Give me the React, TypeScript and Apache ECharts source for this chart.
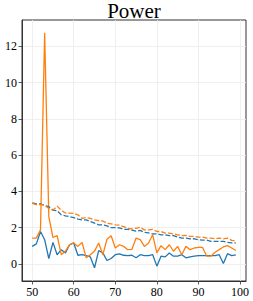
import React, { useEffect, useRef } from "react";
import * as echarts from "echarts";

const xs: number[] = Array.from({ length: 50 }, (_, i) => 50 + i);

const blueSolid: number[] = [
  0.96, 1.1, 1.78, 1.33, 0.29, 1.18, 0.5, 0.78, 0.6, 1.05,
  1.15, 0.47, 0.5, 0.45, 0.38, -0.22, 0.73, 0.6, 0.18, 0.29,
  0.5, 0.55, 0.47, 0.45, 0.47, 0.33, 0.5, 0.45, 0.45, 0.5,
  -0.13, 0.42, 0.38, 0.6, 0.42, 0.42, 0.5, 0.33, 0.38, 0.42,
  0.45, 0.45, 0.45, 0.45, 0.45, 0.5, 0.02, 0.56, 0.45, 0.49,
];

const orangeSolid: number[] = [
  1.42, 1.42, 1.87, 12.75, 2.6, 1.45, 1.55, 0.5, 0.7, 1.05,
  1.15, 0.96, 1.18, 0.33, 0.5, 0.7, 1.15, 0.5, 1.36, 1.55,
  0.87, 1.05, 0.96, 0.78, 0.8, 1.42, 1.33, 0.96, 1.15, 1.6,
  0.6, 1.0, 0.78, 1.05, 0.69, 0.96, 0.5, 0.96, 0.78, 0.87,
  0.9, 0.9, 0.42, 0.42, 0.64, 0.78, 0.93, 1.0, 0.87, 0.73,
];

const blueDashed: number[] = [
  3.36, 3.3, 3.3, 3.22, 3.15, 2.96, 2.93, 2.7, 2.64, 2.6,
  2.55, 2.47, 2.42, 2.42, 2.33, 2.24, 2.15, 2.15, 2.09, 2.0,
  2.0, 1.98, 1.9, 1.9, 1.86, 1.8, 1.84, 1.73, 1.7, 1.65,
  1.65, 1.6, 1.6, 1.55, 1.55, 1.47, 1.42, 1.42, 1.38, 1.38,
  1.33, 1.3, 1.3, 1.24, 1.24, 1.24, 1.24, 1.18, 1.15, 1.15,
];

const orangeDashed: number[] = [
  3.33, 3.27, 3.27, 3.24, 3.05, 2.96, 3.18, 2.96, 2.8, 2.8,
  2.78, 2.7, 2.5, 2.55, 2.5, 2.42, 2.38, 2.36, 2.24, 2.2,
  2.15, 2.13, 2.05, 1.96, 1.92, 1.96, 2.02, 1.87, 1.87, 1.9,
  1.78, 1.78, 1.69, 1.69, 1.65, 1.6, 1.55, 1.56, 1.51, 1.51,
  1.47, 1.47, 1.42, 1.42, 1.38, 1.42, 1.38, 1.42, 1.29, 1.27,
];

const xTicks: number[] = [50, 60, 70, 80, 90, 100];
const yTicks: number[] = [0, 2, 4, 6, 8, 10, 12];

const BLUE = "#1f77b4";
const ORANGE = "#ff7f0e";
const FONT = "Liberation Serif";

export default function App() {
  const ref = useRef<HTMLDivElement>(null);
  useEffect(() => {
    document.body.style.margin = "0";
    if (!ref.current) return;
    const chart = echarts.init(ref.current, undefined, { renderer: "svg" });
    const pair = (arr: number[]) => xs.map((x, i) => [x, arr[i]]);
    const axisCommon = {
      axisLine: { show: true, onZero: false, lineStyle: { color: "#333", width: 1 } },
      splitLine: { show: true, lineStyle: { color: "#ebebeb", width: 0.8 } },
      axisLabel: { show: false },
    };
    const tick = (vals: number[]) => ({
      show: true,
      inside: false,
      length: 3.5,
      customValues: vals,
      lineStyle: { color: "#333", width: 0.8 },
    });
    const line = (data: number[], color: string, dashed: boolean, z: number) => ({
      type: "line",
      data: pair(data),
      showSymbol: false,
      symbol: "none",
      z,
      lineStyle: { color, width: 1.3, type: dashed ? [5, 2] : "solid" },
    });
    const xMin = 47.55;
    const yMin = -0.95;
    chart.setOption({
      animation: false,
      textStyle: { fontFamily: FONT },
      title: {
        text: "Power",
        left: 134,
        top: 0,
        padding: 0,
        textAlign: "center",
        textStyle: { fontFamily: FONT, fontSize: 21, fontWeight: "normal", color: "#000" },
      },
      grid: {
        left: 22,
        right: 7,
        top: 20,
        bottom: 20,
        show: true,
        borderColor: "#333",
        borderWidth: 1,
        backgroundColor: "transparent",
      },
      xAxis: {
        type: "value",
        min: xMin,
        max: 101.45,
        ...axisCommon,
        axisTick: tick(xTicks),
      },
      yAxis: {
        type: "value",
        min: yMin,
        max: 13.45,
        ...axisCommon,
        axisTick: tick(yTicks),
      },
      series: [
        line(blueSolid, BLUE, false, 3),
        line(orangeSolid, ORANGE, false, 4),
        line(blueDashed, BLUE, true, 5),
        line(orangeDashed, ORANGE, true, 6),
      ],
    });
    const graphics: any[] = [];
    xTicks.forEach((v) => {
      const p = chart.convertToPixel({ gridIndex: 0 }, [v, yMin]) as number[];
      graphics.push({
        type: "text",
        x: p[0],
        y: p[1] + 5,
        style: {
          text: String(v),
          font: "12px 'Liberation Serif', serif",
          fill: "#000",
          textAlign: "center",
          textVerticalAlign: "top",
        },
      });
    });
    yTicks.forEach((v) => {
      const p = chart.convertToPixel({ gridIndex: 0 }, [xMin, v]) as number[];
      graphics.push({
        type: "text",
        x: p[0] - 5,
        y: p[1],
        style: {
          text: String(v),
          font: "12px 'Liberation Serif', serif",
          fill: "#000",
          textAlign: "right",
          textVerticalAlign: "middle",
        },
      });
    });
    chart.setOption({ graphic: graphics });
    return () => chart.dispose();
  }, []);
  return <div ref={ref} style={{ width: 253, height: 301 }} />;
}
